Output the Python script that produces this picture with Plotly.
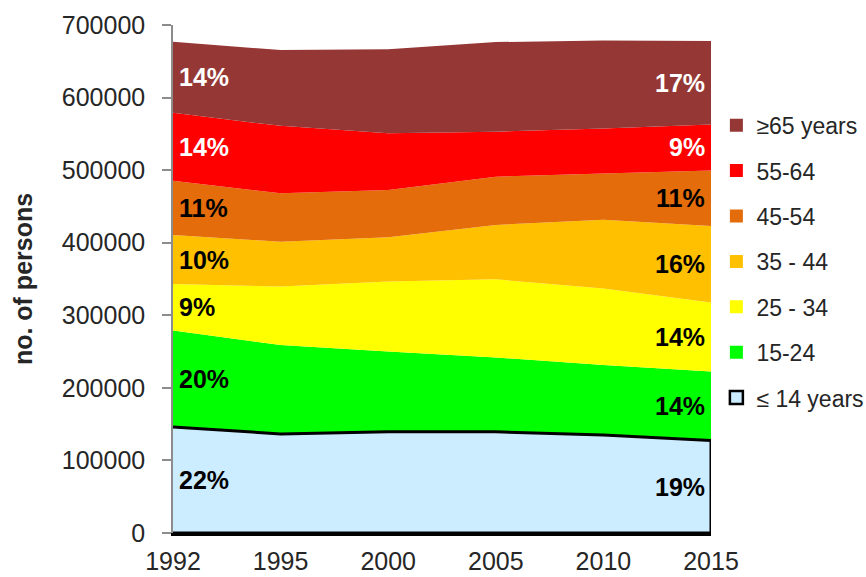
import plotly.graph_objects as go

# Census years (evenly spaced categories on the x axis)
years = ["1992", "1995", "2000", "2005", "2010", "2015"]

# Population by age group, bottom of the stack first
under15 = [146000, 136500, 139500, 139500, 135000, 127500]
age15_24 = [133000, 122500, 110500, 102500, 96500, 95000]
age25_34 = [64000, 80500, 96500, 107500, 105500, 95000]
age35_44 = [67500, 62000, 61000, 75000, 94500, 105500]
age45_54 = [75000, 66500, 65000, 66500, 64000, 76500]
age55_64 = [93500, 93000, 78500, 62000, 62000, 63500]
age65plus = [98000, 104500, 115500, 123500, 121000, 115000]

group_names = ["≤ 14 years", "15-24", "25 - 34", "35 - 44", "45-54", "55-64", "≥65 years"]
group_values = [under15, age15_24, age25_34, age35_44, age45_54, age55_64, age65plus]
group_colors = ["#CCECFF", "#00FF00", "#FFFF00", "#FFC000", "#E46C0A", "#FF0000", "#953735"]
label_colors = ["black", "black", "black", "black", "black", "white", "white"]

y_ticks = [0, 100000, 200000, 300000, 400000, 500000, 600000, 700000]

FONT = "Liberation Sans, Arial, sans-serif"

fig = go.Figure()

# Stacked areas
for name, vals, col in zip(group_names, group_values, group_colors):
    fig.add_trace(go.Scatter(
        x=years, y=vals, name=name, stackgroup="pop", mode="lines",
        line=dict(width=0, color=col), fillcolor=col, showlegend=False,
        hoverinfo="x+y+name",
    ))

# Outlined youngest group drawn as a closed shape on top of the stack
fig.add_trace(go.Scatter(
    x=years + years[::-1], y=under15 + [0] * len(years),
    mode="lines", fill="toself", fillcolor=group_colors[0],
    line=dict(color="black", width=3), showlegend=False, hoverinfo="skip",
))

# Legend entries as square swatches, oldest group first
for i in range(len(group_names) - 1, -1, -1):
    outline = dict(color="black", width=2.5) if i == 0 else dict(width=0)
    fig.add_trace(go.Scatter(
        x=[None], y=[None], mode="markers", name=group_names[i],
        legendgroup=group_names[i],
        marker=dict(symbol="square", size=13, color=group_colors[i], line=outline),
    ))

# Share labels for the first and last year, centred in each band
totals = [sum(v[k] for v in group_values) for k in range(len(years))]
for col_idx, anchor, shift in [(0, "left", 4), (len(years) - 1, "right", -4)]:
    base = 0
    for vals, tcol in zip(group_values, label_colors):
        v = vals[col_idx]
        pct = round(100 * v / totals[col_idx])
        fig.add_annotation(
            xref="x", yref="y", x=col_idx, y=base + v / 2,
            text=f"<b>{pct}%</b>",
            showarrow=False, xanchor=anchor, yanchor="middle", xshift=shift,
            font=dict(family=FONT, size=25, color=tcol),
        )
        base += v

fig.update_layout(
    width=866, height=577,
    margin=dict(l=173, r=155, t=25, b=44, autoexpand=False),
    paper_bgcolor="white", plot_bgcolor="white",
    font=dict(family=FONT, color="#262626"),
    legend=dict(
        x=1.01, xanchor="left", y=0.845, yanchor="top",
        traceorder="grouped", tracegroupgap=12.5,
        font=dict(family=FONT, size=23, color="#262626"),
        bgcolor="rgba(0,0,0,0)",
    ),
    showlegend=True,
)

fig.update_xaxes(
    type="category", range=[0, len(years) - 1], automargin=False,
    showline=True, linecolor="black", linewidth=3,
    ticks="", showgrid=False, zeroline=False,
    tickfont=dict(family=FONT, size=25, color="#262626"),
    ticklabelstandoff=4,
)

fig.update_yaxes(
    range=[0, 700000], tickvals=y_ticks, tickformat="d", automargin=False,
    showline=True, linecolor="#8c8c8c", linewidth=1.5,
    ticks="outside", ticklen=9, tickwidth=1.5, tickcolor="#8c8c8c",
    showgrid=False, zeroline=False,
    tickfont=dict(family=FONT, size=25, color="#262626"),
    ticklabelstandoff=12,
    title=dict(text="<b>no. of persons</b>", standoff=22,
               font=dict(family=FONT, size=25, color="#262626")),
)

fig.write_html("out.html")
